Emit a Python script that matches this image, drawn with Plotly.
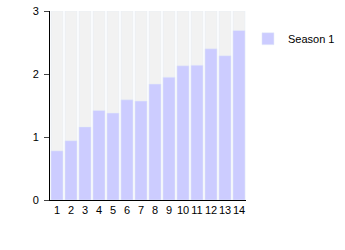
import plotly.graph_objects as go

categories = [str(i) for i in range(1, 15)]
season1 = [0.78, 0.94, 1.16, 1.42, 1.38, 1.59, 1.57, 1.84, 1.95, 2.13, 2.14, 2.40, 2.29, 2.69]
y_max = 3

fig = go.Figure()
fig.add_trace(go.Bar(x=categories, y=[y_max] * len(categories), marker_color="#f2f2f2",
                     showlegend=False, hoverinfo="skip"))
fig.add_trace(go.Bar(x=categories, y=season1, name="Season 1", marker_color="#ccccff"))

fig.update_layout(
    width=345, height=250,
    margin=dict(l=50, r=99, t=11, b=50, autoexpand=False),
    paper_bgcolor="white", plot_bgcolor="white",
    barmode="overlay", bargap=0.14,
    font=dict(family="Liberation Sans, Arial", size=11, color="#000"),
    legend=dict(x=1.01, y=0.93, xanchor="left", yanchor="top", font=dict(size=11),
                itemwidth=30, tracegroupgap=0),
    showlegend=True,
)
fig.update_xaxes(showline=True, linecolor="black", linewidth=1, ticks="", showgrid=False,
                 type="category", tickmode="linear", dtick=1, tickangle=0,
                 tickfont=dict(size=11))
fig.update_yaxes(range=[0, y_max], tickvals=[0, 1, 2, 3], showline=True, linecolor="black",
                 linewidth=1, ticks="outside", ticklen=5, ticklabelstandoff=3,
                 showgrid=False, zeroline=False, tickfont=dict(size=11))

fig.write_html("out.html")
